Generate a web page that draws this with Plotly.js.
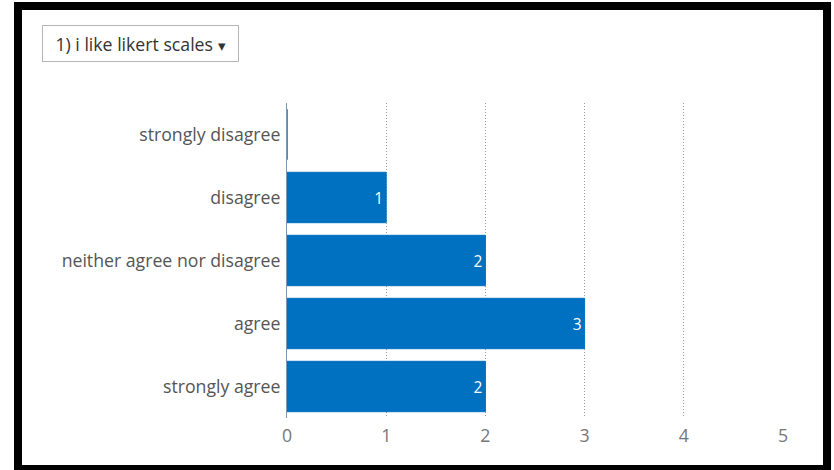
<!DOCTYPE html>
<html>
<head>
<meta charset="utf-8">
<script src="https://cdn.plot.ly/plotly-3.0.1.min.js"></script>
<style>
  html, body { margin: 0; padding: 0; background: #fff; width: 834px; height: 470px; overflow: hidden; }
  #frame { position: absolute; left: 14px; top: 2px; width: 817px; height: 470px; box-sizing: border-box;
           border-left: 8px solid #000; border-top: 8px solid #000; border-right: 8px solid #000; border-bottom: 7px solid #000; }
  #chart { position: absolute; left: 0; top: 0; width: 834px; height: 470px; }
</style>
</head>
<body>
<div id="frame"></div>
<div id="chart"></div>
<script>
const categories = ["strongly disagree", "disagree", "neither agree nor disagree", "agree", "strongly agree"];
const counts = [0, 1, 2, 3, 2];
const xTicks = [0, 1, 2, 3, 4, 5];
const questionLabel = "1) i like likert scales";

const trace = {
  type: 'bar',
  orientation: 'h',
  y: categories,
  x: counts,
  text: counts.map(v => String(v)),
  textposition: counts.map(v => v > 0 ? 'inside' : 'none'),
  insidetextanchor: 'end',
  textfont: { color: '#ffffff', size: 15.5, family: 'Open Sans' },
  marker: { color: '#0070c0', line: { color: '#0070c0', width: 1 } },
  hoverinfo: 'none',
  cliponaxis: false
};

const layout = {
  width: 834, height: 470,
  margin: { l: 287, r: 51, t: 103, b: 52 },
  paper_bgcolor: 'rgba(0,0,0,0)',
  plot_bgcolor: 'rgba(0,0,0,0)',
  font: { family: 'Open Sans', size: 17.7, color: '#555' },
  bargap: 0.2,
  showlegend: false,
  xaxis: {
    range: [0, 5],
    tickvals: xTicks,
    showgrid: true,
    gridcolor: '#9a9a9a',
    griddash: '1px,2px',
    gridwidth: 1,
    zeroline: false,
    showline: false,
    ticks: '',
    ticklabelstandoff: 5,
    tickfont: { size: 17.7, color: '#777' },
    fixedrange: true
  },
  yaxis: {
    type: 'category',
    categoryorder: 'array',
    categoryarray: categories,
    autorange: 'reversed',
    showgrid: false,
    zeroline: false,
    showline: true,
    linecolor: '#7f97b2',
    linewidth: 1,
    ticks: '',
    ticklabelstandoff: 2,
    tickfont: { size: 17.7, color: '#555' },
    fixedrange: true
  },
  annotations: [{
    xref: 'paper', yref: 'paper',
    x: -0.494, xanchor: 'left',
    y: 1.2476, yanchor: 'top',
    text: questionLabel + ' <span style="font-size:15px">▾</span>',
    showarrow: false,
    align: 'center',
    valign: 'middle',
    width: 189,
    height: 29,
    borderpad: 3,
    bgcolor: '#ffffff',
    bordercolor: '#b5b5b5',
    borderwidth: 1,
    font: { family: 'Open Sans', size: 17.7, color: '#333' }
  }]
};

Plotly.newPlot('chart', [trace], layout, { displayModeBar: false });
</script>
</body>
</html>
